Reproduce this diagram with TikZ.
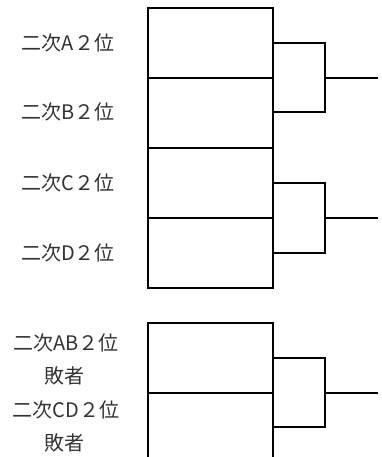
\documentclass[tikz,border=0pt]{standalone}
\usepackage{fontspec}
\setmainfont{Noto Sans CJK JP}
\usetikzlibrary{calc}

\begin{document}
\begin{tikzpicture}[x=1pt, y=-1pt, line join=miter]
			%%%%% START %%%%%
			\tikzset{bk/.style={line width=2pt, color=black},
				lbl/.style={font=\fontsize{20}{24}\selectfont, color=black!80, inner sep=0pt}}
			\useasboundingbox (0, 0) rectangle (382, 457);
			
			% block A / B
			\draw[bk] (148, 8) rectangle (273, 148);
			\draw[bk] (148, 78) -- (273, 78);
			\draw[bk] (273, 43) -- (325, 43) -- (325, 112) -- (273, 112);
			\draw[bk] (325, 78) -- (378, 78);
			
			% block C / D
			\draw[bk] (148, 148) rectangle (273, 288);
			\draw[bk] (148, 218) -- (273, 218);
			\draw[bk] (273, 183) -- (325, 183) -- (325, 253) -- (273, 253);
			\draw[bk] (325, 218) -- (378, 218);
			
			% losers
			\draw[bk] (148, 457) -- (148, 323) -- (273, 323) -- (273, 457);
			\draw[bk] (148, 393) -- (273, 393);
			\draw[bk] (273, 358) -- (325, 358) -- (325, 427) -- (273, 427);
			\draw[bk] (325, 393) -- (378, 393);
			
			\node[lbl] (a2) at (68, 43) {二次A２位};
			\node[lbl] (b2) at (68, 112) {二次B２位};
			\node[lbl] (c2) at (68, 183) {二次C２位};
			\node[lbl] (d2) at (68, 253) {二次D２位};
			
			\node[lbl] (ab2) at (66, 343) {二次AB２位};
			\node[lbl] (abl) at (64, 376) {敗者};
			\node[lbl] (cd2) at (66, 410) {二次CD２位};
			\node[lbl] (cdl) at (64, 443) {敗者};
			%%%%% END %%%%%
\end{tikzpicture}
\end{document}
